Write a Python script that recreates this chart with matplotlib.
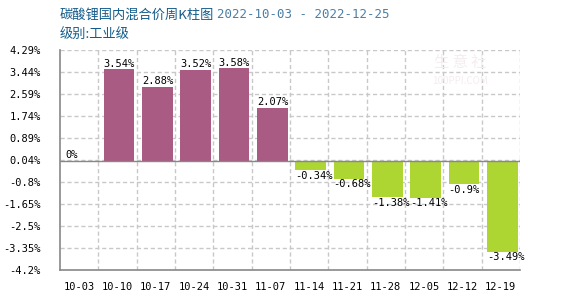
import matplotlib
matplotlib.use("Agg")
import matplotlib.pyplot as plt
import numpy as np

plt.rcParams['font.family'] = ['Noto Sans CJK SC', 'DejaVu Sans']

weeks = ['10-03', '10-10', '10-17', '10-24', '10-31', '11-07',
         '11-14', '11-21', '11-28', '12-05', '12-12', '12-19']
changes = [0, 3.54, 2.88, 3.52, 3.58, 2.07, -0.34, -0.68, -1.38, -1.41, -0.9, -3.49]
ytick_vals = [4.29, 3.44, 2.59, 1.74, 0.89, 0.04, -0.8, -1.65, -2.5, -3.35, -4.2]
ytick_labels = ['4.29%', '3.44%', '2.59%', '1.74%', '0.89%', '0.04%',
                '-0.8%', '-1.65%', '-2.5%', '-3.35%', '-4.2%']
value_labels = ['0%', '3.54%', '2.88%', '3.52%', '3.58%', '2.07%', '-0.34%',
                '-0.68%', '-1.38%', '-1.41%', '-0.9%', '-3.49%']

UP = '#a95b83'
DOWN = '#add633'
GRID = '#c8c8c8'
AXIS = '#888888'
MONO = 'DejaVu Sans Mono'

fig = plt.figure(figsize=(5.7, 3.0), dpi=100)
ax = fig.add_axes([60 / 570, 30 / 300, 460 / 570, 220 / 300])

x = np.arange(len(weeks))
colors = [UP if v >= 0 else DOWN for v in changes]
width = 0.8
ax.bar(x + 0.04, changes, width=width, color=colors, zorder=3)

ax.set_xlim(-0.5, len(weeks) - 0.5)
ax.set_ylim(ytick_vals[-1], ytick_vals[0])

# grid: dashed lines at category boundaries and at the y ticks
for b in np.arange(0.5, len(weeks) - 0.5 + 0.01, 1.0):
    ax.axvline(b, color=GRID, ls=(0, (3, 2)), lw=1, zorder=1)
for t in ytick_vals[:-1]:
    ax.axhline(t, color=GRID, ls=(0, (3, 2)), lw=1, zorder=1)
ax.axhline(0, color=AXIS, lw=1, zorder=4)

ax.set_xticks(x)
ax.set_xticklabels(weeks, family=MONO, fontsize=7.5)
ax.set_yticks(ytick_vals)
ax.set_yticklabels(ytick_labels, family=MONO, fontsize=7.5)
ax.tick_params(axis='both', length=0)
ax.tick_params(axis='x', pad=9)
ax.tick_params(axis='y', pad=14)

for side in ['top', 'right']:
    ax.spines[side].set_visible(False)
for side in ['left', 'bottom']:
    ax.spines[side].set_color(AXIS)
    ax.spines[side].set_linewidth(1.2)

for xi, v, lab in zip(x, changes, value_labels):
    left = xi + 0.04 - width / 2
    if v >= 0:
        ax.annotate(lab, (left, v), xytext=(0, 0.5), textcoords='offset points',
                    ha='left', va='bottom', family=MONO, fontsize=7.5, zorder=5)
    else:
        ax.annotate(lab, (left, v), xytext=(0, -0.5), textcoords='offset points',
                    ha='left', va='top', family=MONO, fontsize=7.5, zorder=5)

# faint watermark
ax.text(0.87, 0.945, '生 意 社', transform=ax.transAxes, ha='center', va='center',
        fontsize=11, color='#f5eded', zorder=2)
ax.text(0.87, 0.86, '100PPI.COM', transform=ax.transAxes, ha='center', va='center',
        fontsize=7, color='#f5eded', zorder=2)

fig.text(60 / 570, 1 - 15 / 300, '碳酸锂国内混合价周K柱图', ha='left', va='center',
         fontsize=9.5, color='#135c8a')
fig.text(217 / 570, 1 - 15 / 300, '2022-10-03 - 2022-12-25', ha='left', va='center',
         fontsize=9, color='#4a7ea6', family=MONO)
fig.text(60 / 570, 1 - 34 / 300, '级别:工业级', ha='left', va='center',
         fontsize=9.5, color='#135c8a')

plt.savefig('out.png', dpi=100)
